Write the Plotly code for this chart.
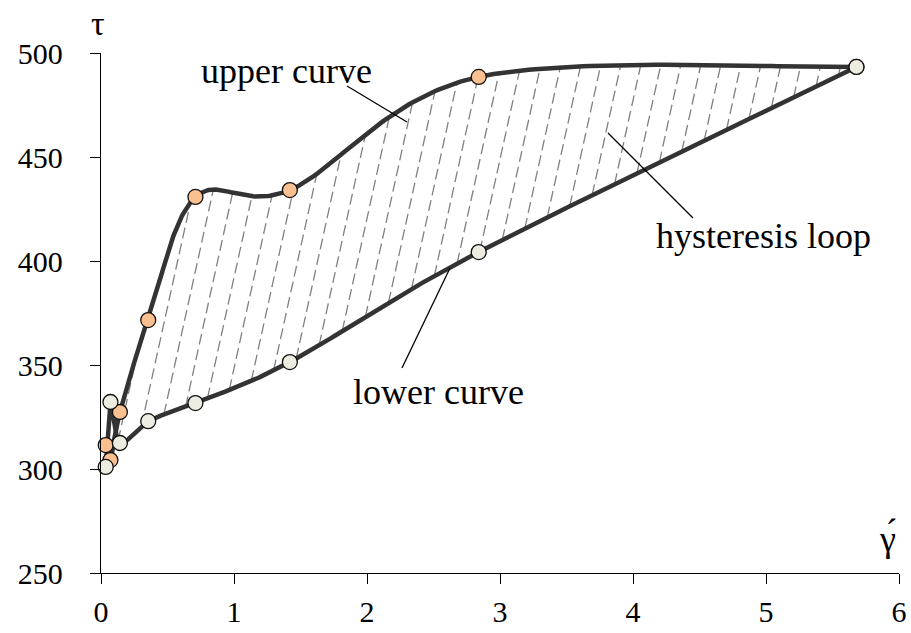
import numpy as np
import plotly.graph_objects as go

# Shear rate and shear stress readings for the up and down sweeps
shear_rate = [0.0355, 0.071, 0.142, 0.355, 0.71, 1.42, 2.84, 5.68]
stress_up = [311.5, 304.3, 327.4, 371.6, 430.8, 434.1, 488.5, 493.3]
stress_down = [301.0, 332.2, 312.5, 323.0, 331.7, 351.4, 404.3, 493.3]

x_ticks = [0, 1, 2, 3, 4, 5, 6]
y_ticks = [250, 300, 350, 400, 450, 500]

X_RANGE = [0, 6]
Y_RANGE = [250, 500]

W, H = 911, 633
M = dict(l=101, r=12, t=53, b=60)
PW = W - M["l"] - M["r"]
PH = H - M["t"] - M["b"]
sx = PW / (X_RANGE[1] - X_RANGE[0])   # px per x unit
sy = PH / (Y_RANGE[1] - Y_RANGE[0])   # px per y unit

LINE = "#333333"
FONT = "'Liberation Serif', 'Times New Roman', Tinos, 'DejaVu Serif', serif"


def smooth(xs, ys, n=60):
    """Cubic Bezier smoothing through the points (cardinal spline)."""
    P = np.column_stack([xs, ys]).astype(float)
    m = len(P)
    out = [P[0]]
    t = np.linspace(0, 1, n + 1)[1:, None]
    for i in range(m - 1):
        p0 = P[i - 1] if i > 0 else P[i]
        p3 = P[i + 2] if i + 2 < m else P[i + 1]
        c1 = P[i] + (P[i + 1] - p0) / 6
        c2 = P[i + 1] - (p3 - P[i]) / 6
        seg = ((1 - t) ** 3 * P[i] + 3 * (1 - t) ** 2 * t * c1
               + 3 * (1 - t) * t ** 2 * c2 + t ** 3 * P[i + 1])
        out.extend(seg)
    return np.array(out)


up = smooth(shear_rate, stress_up)
dn = smooth(shear_rate, stress_down)


def curve_at(curve, x):
    order = np.argsort(curve[:, 0])
    return np.interp(x, curve[order, 0], curve[order, 1])


# Slanted dashed hatching between the two sweeps
slant = 0.22          # horizontal px per vertical px
spacing = 20.0        # px between hatch lines
phase = 8.0           # px offset of the hatch grid
hx, hy = [], []
yy = np.arange(Y_RANGE[0], Y_RANGE[1], 0.05)
for c_px in np.arange(phase - 400, 900, spacing):
    xx = (c_px + slant * (yy - Y_RANGE[0]) * sy) / sx
    ok = (xx > shear_rate[0]) & (xx < shear_rate[-1])
    inside = ok & (yy > curve_at(dn, xx)) & (yy < curve_at(up, xx))
    if not inside.any():
        continue
    idx = np.flatnonzero(inside)
    runs = np.split(idx, np.flatnonzero(np.diff(idx) > 1) + 1)
    for r in runs:
        if len(r) < 3:
            continue
        hx += [xx[r[0]], xx[r[-1]], None]
        hy += [yy[r[0]], yy[r[-1]], None]

fig = go.Figure()
fig.add_trace(go.Scatter(x=hx, y=hy, mode="lines", hoverinfo="skip",
                         line=dict(color="#808080", width=1.3, dash="11px,5px"),
                         showlegend=False))
fig.add_trace(go.Scatter(x=up[:, 0], y=up[:, 1], mode="lines", cliponaxis=False,
                         line=dict(color=LINE, width=4.5), showlegend=False))
fig.add_trace(go.Scatter(x=dn[:, 0], y=dn[:, 1], mode="lines", cliponaxis=False,
                         line=dict(color=LINE, width=4.5), showlegend=False))
fig.add_trace(go.Scatter(x=shear_rate, y=stress_up, mode="markers", cliponaxis=False,
                         marker=dict(size=15, color="#FAC090",
                                     line=dict(color="#111111", width=1.3)),
                         showlegend=False))
fig.add_trace(go.Scatter(x=shear_rate, y=stress_down, mode="markers", cliponaxis=False,
                         marker=dict(size=15, color="#EEECE1",
                                     line=dict(color="#111111", width=1.3)),
                         showlegend=False))


def px_to_data(px, py):
    return (px - M["l"]) / sx + X_RANGE[0], Y_RANGE[0] + (H - M["b"] - py) / sy


def px_to_paper(px, py):
    return (px - M["l"]) / PW, (H - M["b"] - py) / PH


leaders = [((347, 86), (407, 122)), ((608, 133), (693, 218)), ((450, 268), (402, 368))]
for (a, b) in leaders:
    x0, y0 = px_to_data(*a)
    x1, y1 = px_to_data(*b)
    fig.add_shape(type="line", x0=x0, y0=y0, x1=x1, y1=y1, xref="x", yref="y",
                  line=dict(color="black", width=1.3))

labels = [("upper curve", 286, 71), ("hysteresis loop", 763, 236), ("lower curve", 438, 392)]
for txt, px, py in labels:
    x, y = px_to_paper(px, py)
    fig.add_annotation(x=x, y=y, xref="paper", yref="paper", text=txt, showarrow=False,
                       xanchor="center", yanchor="middle",
                       font=dict(family=FONT, size=36, color="black"))

tx, ty = px_to_paper(98, 24)
fig.add_annotation(x=tx, y=ty, xref="paper", yref="paper", text="τ", showarrow=False,
                   xanchor="center", yanchor="middle",
                   font=dict(family=FONT, size=34, color="black"))
gx, gy = px_to_paper(887, 538)
fig.add_annotation(x=gx, y=gy, xref="paper", yref="paper", text="γ\u0301", showarrow=False,
                   xanchor="center", yanchor="middle",
                   font=dict(family=FONT, size=36, color="black"))

axis_common = dict(showline=True, linecolor="black", linewidth=1.3, ticks="outside",
                   ticklen=10, tickwidth=1.3, tickcolor="black", showgrid=False,
                   zeroline=False, automargin=False,
                   tickfont=dict(family=FONT, size=30, color="black"))
fig.update_xaxes(range=X_RANGE, tickvals=x_ticks, ticklabelstandoff=2, **axis_common)
fig.update_yaxes(range=Y_RANGE, tickvals=y_ticks, ticklabelstandoff=21, **axis_common)

fig.update_layout(width=W, height=H, margin=M, plot_bgcolor="white",
                  paper_bgcolor="white", showlegend=False,
                  font=dict(family=FONT, color="black"))
fig.write_html("out.html")
